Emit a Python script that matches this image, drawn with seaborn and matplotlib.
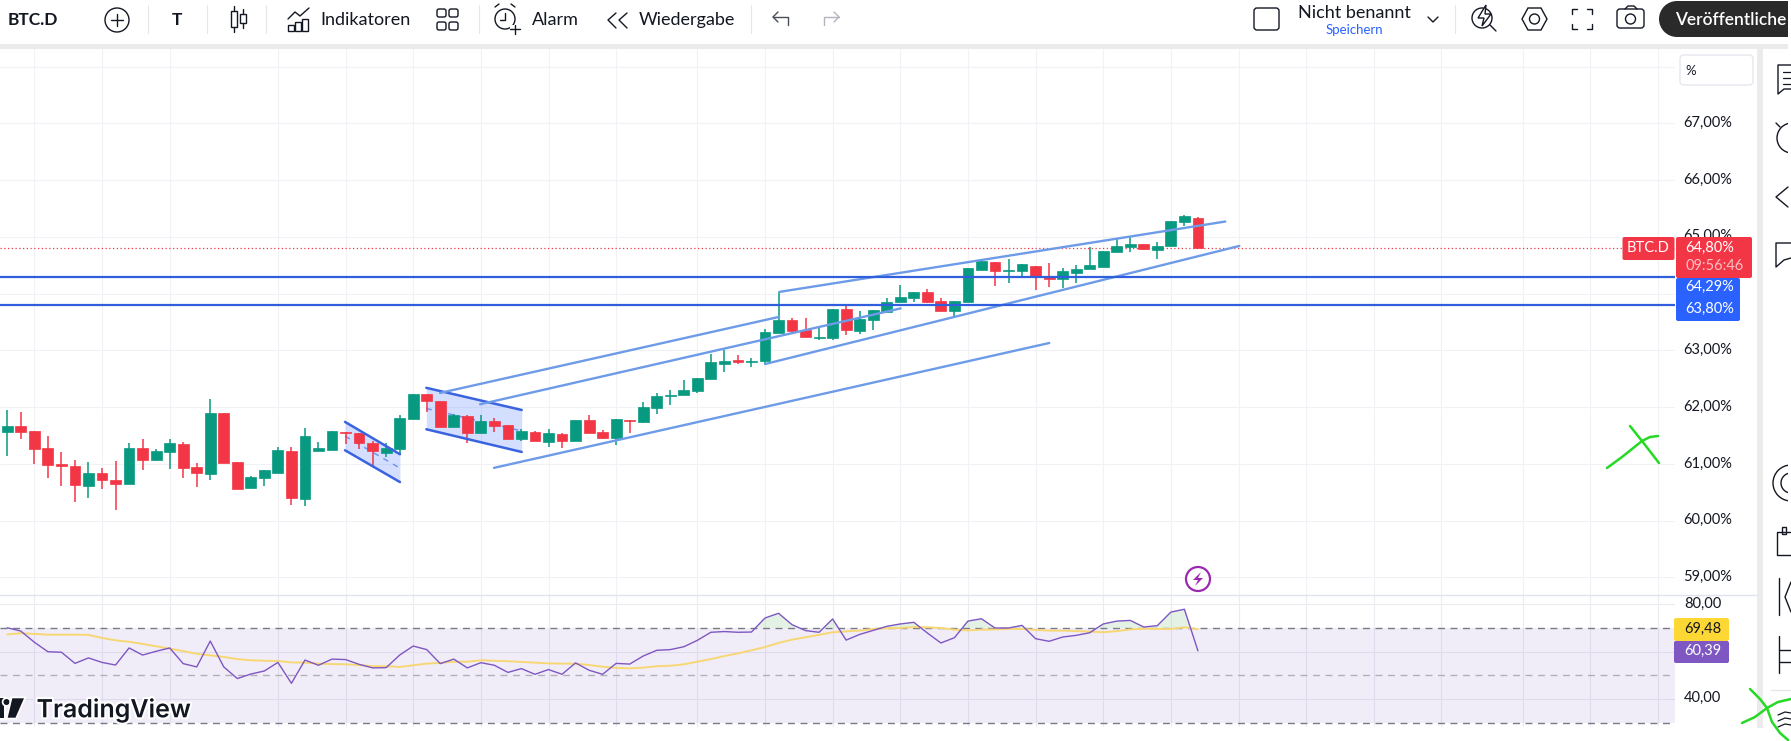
import matplotlib
matplotlib.use("Agg")
import matplotlib.patheffects as pe
import matplotlib.pyplot as plt
import numpy as np
import pandas as pd
import seaborn as sns
from matplotlib.lines import Line2D
from matplotlib.patches import Circle, FancyBboxPatch, Polygon, Rectangle
from matplotlib.transforms import ScaledTranslation

# candles, in percent
opens = [61.56, 61.67, 61.58, 61.28, 60.99, 60.96, 60.61, 60.84, 60.72, 60.64, 61.28, 61.07, 61.21, 61.35, 60.94,
         60.82, 61.90, 61.03, 60.57, 60.75, 60.84, 61.23, 60.38, 61.23, 61.24, 61.56, 61.54, 61.37, 61.19, 61.26,
         61.79, 62.23, 62.11, 61.65, 61.84, 61.54, 61.75, 61.68, 61.44, 61.56, 61.39, 61.53, 61.40, 61.77, 61.56,
         61.46, 61.77, 61.74, 61.98, 62.20, 62.21, 62.28, 62.49, 62.76, 62.83, 62.79, 62.81, 63.31, 63.53, 63.36,
         63.22, 63.22, 63.73, 63.34, 63.53, 63.68, 63.85, 63.92, 64.03, 63.87, 63.69, 63.85, 64.42, 64.56, 64.40,
         64.40, 64.49, 64.31, 64.26, 64.36, 64.43, 64.47, 64.73, 64.82, 64.87, 64.77, 64.84, 65.26, 65.33]
highs = [61.95, 61.91, 61.58, 61.49, 61.21, 61.07, 61.03, 60.93, 61.05, 61.37, 61.44, 61.26, 61.44, 61.39, 61.01,
         62.14, 61.90, 61.03, 60.79, 60.89, 61.30, 61.30, 61.63, 61.39, 61.58, 61.56, 61.54, 61.40, 61.37, 61.86,
         62.23, 62.23, 62.11, 61.88, 61.86, 61.86, 61.81, 61.68, 61.61, 61.58, 61.61, 61.54, 61.77, 61.86, 61.60,
         61.79, 61.77, 62.09, 62.25, 62.30, 62.48, 62.51, 62.94, 63.01, 62.92, 62.87, 63.38, 64.03, 63.57, 63.57,
         63.41, 63.73, 63.78, 63.69, 63.71, 63.92, 64.15, 64.03, 64.08, 63.92, 63.87, 64.45, 64.61, 64.56, 64.61,
         64.52, 64.49, 64.54, 64.45, 64.50, 64.82, 64.75, 64.98, 65.01, 64.87, 64.91, 65.28, 65.39, 65.35]
lows = [61.14, 61.44, 60.99, 60.75, 60.61, 60.33, 60.40, 60.56, 60.19, 60.64, 60.89, 61.05, 60.91, 60.75, 60.59,
        60.72, 61.01, 60.56, 60.57, 60.61, 60.84, 60.28, 60.26, 61.23, 61.24, 61.35, 61.26, 60.94, 61.12, 61.17,
        61.79, 61.91, 61.65, 61.65, 61.37, 61.54, 61.56, 61.44, 61.40, 61.40, 61.30, 61.28, 61.40, 61.54, 61.44,
        61.33, 61.54, 61.72, 61.88, 62.04, 62.21, 62.25, 62.49, 62.62, 62.76, 62.71, 62.74, 63.31, 63.32, 63.24,
        63.18, 63.18, 63.27, 63.29, 63.36, 63.68, 63.85, 63.85, 63.83, 63.69, 63.59, 63.85, 64.42, 64.13, 64.19,
        64.31, 64.06, 64.12, 64.10, 64.19, 64.43, 64.47, 64.73, 64.73, 64.77, 64.61, 64.84, 65.19, 64.80]
closes = [61.67, 61.56, 61.26, 60.98, 60.96, 60.63, 60.84, 60.72, 60.64, 61.28, 61.07, 61.23, 61.37, 60.93, 60.84,
          61.90, 61.01, 60.56, 60.77, 60.89, 61.24, 60.40, 61.49, 61.28, 61.58, 61.54, 61.37, 61.23, 61.28, 61.81,
          62.23, 62.11, 61.65, 61.86, 61.54, 61.75, 61.67, 61.44, 61.58, 61.40, 61.54, 61.40, 61.77, 61.54, 61.46,
          61.79, 61.75, 62.00, 62.20, 62.21, 62.30, 62.51, 62.79, 62.81, 62.79, 62.81, 63.32, 63.53, 63.34, 63.24,
          63.24, 63.73, 63.36, 63.55, 63.71, 63.85, 63.94, 64.03, 63.85, 63.69, 63.87, 64.45, 64.57, 64.40, 64.42,
          64.52, 64.29, 64.26, 64.40, 64.43, 64.50, 64.75, 64.84, 64.87, 64.79, 64.84, 65.28, 65.37, 64.80]

rsi = [70.1, 68.7, 64.0, 60.0, 59.8, 55.1, 57.4, 55.5, 54.4, 61.6, 58.6, 60.2, 61.6, 55.0, 53.6, 64.5, 53.6, 48.7,
       50.6, 51.9, 55.5, 46.7, 56.5, 54.3, 56.9, 56.7, 54.7, 53.2, 53.3, 58.6, 62.4, 60.9, 55.0, 56.9, 53.2, 55.4,
       54.3, 51.3, 52.9, 50.5, 52.5, 50.5, 55.3, 52.2, 50.5, 55.1, 54.8, 58.2, 60.6, 60.9, 62.1, 64.8, 68.2, 68.5,
       68.2, 68.3, 74.2, 76.2, 71.4, 68.9, 68.2, 73.8, 64.9, 67.3, 69.0, 70.7, 71.7, 72.4, 67.9, 63.7, 65.9, 72.9,
       73.9, 70.0, 70.0, 71.1, 65.5, 64.4, 66.2, 66.9, 68.0, 71.7, 72.9, 73.2, 70.4, 71.0, 76.7, 77.9, 60.39]
rsi_ma = [67.3, 67.8, 67.5, 67.2, 67.2, 67.2, 67.1, 65.8, 64.8, 64.2, 63.3, 62.3, 61.3, 60.3, 59.1, 58.5, 57.8, 56.9,
          56.4, 56.2, 56.1, 55.5, 55.4, 55.0, 54.8, 54.7, 54.4, 53.9, 53.9, 53.6, 54.3, 55.0, 55.3, 55.8, 55.8, 56.4,
          56.2, 56.0, 55.7, 55.4, 55.1, 55.0, 55.0, 54.4, 53.7, 53.2, 53.0, 53.3, 53.9, 54.1, 54.7, 55.8, 56.9, 58.2,
          59.3, 60.6, 62.0, 63.7, 65.1, 66.1, 67.1, 68.2, 68.6, 68.9, 69.6, 69.9, 70.0, 70.4, 70.3, 70.0, 69.3, 69.0,
          69.3, 69.4, 69.6, 69.6, 69.2, 68.9, 68.9, 68.7, 68.5, 68.2, 68.7, 69.4, 69.7, 69.6, 69.6, 70.3, 69.48]

x_grid = [2, 7, 12, 20, 25, 30, 35, 40, 45, 51, 56, 61, 66, 71, 76, 81, 86, 91, 96, 101, 106, 112, 117, 122]
price_ticks = [59, 60, 61, 62, 63, 64, 65, 66, 67, 68]
price_labels = ["59,00%", "60,00%", "61,00%", "62,00%", "63,00%", "64,00%", "65,00%", "66,00%", "67,00%", ""]
rsi_grid = [80, 60, 40]
rsi_bands = [70, 50, 30]
last_price = 64.80
level_lines = [64.29, 63.80]

# drawings: (bar, price, bar, price)
channel_lines = [(31.98, 62.25, 57.04, 63.59), (34.94, 62.05, 66.03, 63.74), (56.02, 62.76, 91.06, 64.84),
                 (57.06, 64.03, 90.02, 65.27), (35.97, 60.93, 77.01, 63.13)]
flags = [(24.96, 29.02, 61.74, 61.17, 61.24, 60.68), (30.97, 38.02, 62.34, 61.95, 61.61, 61.21)]

GREEN = "#089981"
RED = "#f23645"
BLUE = "#2f5fdc"
LIGHT_BLUE = "#6d9be8"
GRID = "#f0f2f6"
FONT = "Lato"
W, H = 1791, 741

sns.set_theme(style="white")
plt.rcParams["font.family"] = [FONT, "DejaVu Sans"]

df = pd.DataFrame({"bar": np.arange(len(opens)), "open": opens, "high": highs, "low": lows, "close": closes,
                   "rsi": rsi, "ma": rsi_ma})
up = df["close"] >= df["open"]
colors = np.where(up, GREEN, RED)

fig = plt.figure(figsize=(W / 100, H / 100), dpi=100, facecolor="white")
x_left, x_right = -0.54, 123.26


def pane(y_top, y_bottom):
    return fig.add_axes([0, 1 - y_bottom / H, 1675 / W, (y_bottom - y_top) / H])


ax = pane(49, 595)
ax_rsi = pane(595, 727)

# price pane
ax.set_xlim(x_left, x_right)
ax.set_ylim(58.69, 68.31)
ax.yaxis.tick_right()
ax.set_yticks(price_ticks, price_labels)
ax.set_xticks(x_grid, [])
ax.tick_params(axis="y", length=0, pad=6, labelsize=10.5, labelcolor="#131722")
ax.tick_params(axis="x", length=0)
for tick_label in ax.get_yticklabels():
    tick_label.set_transform(tick_label.get_transform() + ScaledTranslation(0, 2 / 100, fig.dpi_scale_trans))
ax.grid(True, color=GRID, lw=0.8)
ax.set_axisbelow(True)
sns.despine(ax=ax, left=True, bottom=True, right=True, top=True)

ax.vlines(df["bar"], df["low"], df["high"], color=colors, lw=1.1, zorder=2)
ax.bar(df["bar"], (df["close"] - df["open"]).abs(), bottom=df[["open", "close"]].min(axis=1), width=0.8,
       color=colors, edgecolor=colors, lw=0.5, zorder=3)

for x0, x1, top0, top1, bot0, bot1 in flags:
    ax.fill_between([x0, x1], [bot0, bot1], [top0, top1], color="#2962ff", alpha=0.2, lw=0, zorder=1.5)
    ax.plot([x0, x1], [top0, top1], color="#3a63e0", lw=1.8, zorder=5)
    ax.plot([x0, x1], [bot0, bot1], color="#3a63e0", lw=1.8, zorder=5)
    ax.plot([x0, x1], [(top0 + bot0) / 2, (top1 + bot1) / 2], color="#6d8ff0", lw=1, ls=(0, (4, 4)), zorder=1.8)

for x0, y0, x1, y1 in channel_lines:
    ax.plot([x0, x1], [y0, y1], color=LIGHT_BLUE, lw=1.7, zorder=5)
for level in level_lines:
    ax.axhline(level, color=BLUE, lw=1.6, zorder=5)
ax.axhline(last_price, color=RED, lw=0.9, ls=(0, (1, 2)), zorder=1)

# RSI pane
ax_rsi.set_xlim(x_left, x_right)
ax_rsi.set_ylim(28.3, 83.9)
ax_rsi.set_xticks(x_grid, [])
ax_rsi.set_yticks(rsi_grid, [])
ax_rsi.tick_params(length=0)
ax_rsi.grid(True, color="#ebebf1", lw=0.8)
ax_rsi.set_axisbelow(True)
sns.despine(ax=ax_rsi, left=True, bottom=True, right=True, top=True)
ax_rsi.axhspan(30, 70, facecolor="#7e57c2", alpha=0.1, lw=0, zorder=1)
for band, shade in zip(rsi_bands, ["#787b86", "#b0b0ba", "#787b86"]):
    ax_rsi.axhline(band, color=shade, lw=1, ls=(0, (5, 4)), zorder=2)
ax_rsi.fill_between(df["bar"], 70, df["rsi"], where=df["rsi"] > 70, interpolate=True, color="#a5d6a7", alpha=0.3,
                    lw=0, zorder=2)
sns.lineplot(data=df, x="bar", y="ma", ax=ax_rsi, color="#f7d774", lw=1.4, zorder=3)
sns.lineplot(data=df, x="bar", y="rsi", ax=ax_rsi, color="#7e57c2", lw=1.0, zorder=4)
ax_rsi.set_xlabel("")
ax_rsi.set_ylabel("")

# everything around the chart, laid out in screen pixels
ui = fig.add_axes([0, 0, 1, 1], zorder=10)
ui.set_xlim(0, W)
ui.set_ylim(H, 0)
ui.axis("off")
ui.patch.set_alpha(0)
INK = "#131722"


def label(x, y, s, size=10.5, color=INK, ha="left", weight="normal", family=None, **kw):
    return ui.text(x, y, s, fontsize=size, color=color, ha=ha, va="center", fontweight=weight,
                   family=family or [FONT, "DejaVu Sans"], **kw)


def stroke(xs, ys, color=INK, lw=1.0, **kw):
    ui.add_line(Line2D(xs, ys, color=color, lw=lw, solid_capstyle="round", **kw))


def box(x0, y0, x1, y1, color, radius=2):
    ui.add_patch(FancyBboxPatch((x0 + radius, y0 + radius), x1 - x0 - 2 * radius, y1 - y0 - 2 * radius,
                                boxstyle=f"round,pad={radius},rounding_size={radius}", fc=color, ec="none"))


# grey frames
ui.add_patch(Rectangle((0, 44), W, 5, fc="#ebebeb", ec="none"))
ui.add_patch(Rectangle((1757, 44), 6, 684, fc="#ebebeb", ec="none"))
stroke([0, 1757], [595, 595], "#e0e3eb", 1)

# toolbar left
label(8, 20, "BTC.D", 12.5, weight="bold")
for sx in [148, 207, 266, 479, 751, 1455]:
    stroke([sx, sx], [5, 33], "#e6e6e6", 0.8)
ui.add_patch(Circle((117, 20), 12, fc="none", ec=INK, lw=1))
stroke([111, 123], [20, 20])
stroke([117, 117], [14, 26])
label(177, 20, "T", 12.5, ha="center", weight="bold")
for cx, y0, y1, b0, b1 in [(234, 6, 32, 11, 27), (243, 9, 28, 14, 23)]:
    stroke([cx, cx], [y0, b0])
    stroke([cx, cx], [b1, y1])
    ui.add_patch(Rectangle((cx - 3, b0), 6, b1 - b0, fc="none", ec=INK, lw=1))
stroke([288, 295, 300, 309], [19, 12, 16, 8])
for bx, top in [(288, 25), (295, 22), (302, 19)]:
    ui.add_patch(Rectangle((bx, top), 6, 31 - top, fc="none", ec=INK, lw=1))
label(320, 20, "Indikatoren", 13)
for gx, gy in [(437, 9), (449, 9), (437, 22), (449, 22)]:
    ui.add_patch(FancyBboxPatch((gx + 1, gy + 1), 7, 6, boxstyle="round,pad=1,rounding_size=2", fc="none", ec=INK,
                                lw=1))
ui.add_patch(Circle((505, 19), 10, fc="none", ec=INK, lw=1))
stroke([505, 505, 500], [13, 20, 20])
stroke([495, 499], [7, 4])
stroke([515, 511], [7, 4])
ui.add_patch(Rectangle((510, 25), 10, 10, fc="white", ec="none"))
stroke([515, 515], [25, 34])
stroke([510, 520], [29, 29])
label(532, 20, "Alarm", 13)
stroke([616, 608, 616], [13, 20, 28])
stroke([627, 619, 627], [13, 20, 28])
label(639, 20, "Wiedergabe", 13)
stroke([778, 773, 778], [12, 17, 22], "#4a4e59")
stroke([773, 788, 788], [17, 17, 25], "#4a4e59")
stroke([834, 839, 834], [12, 17, 22], "#b2b5be")
stroke([839, 824, 824], [17, 17, 25], "#b2b5be")

# toolbar right
ui.add_patch(FancyBboxPatch((1256, 10), 21, 18, boxstyle="round,pad=2,rounding_size=3", fc="none", ec=INK, lw=1))
label(1354, 13, "Nicht benannt", 13, ha="center")
label(1354, 30, "Speichern", 9.5, ha="center", color="#2962ff")
stroke([1428, 1433, 1438], [17, 22, 17])
ui.add_patch(Circle((1482, 18), 10, fc="none", ec=INK, lw=1))
ui.add_patch(Polygon([(1486, 5), (1478, 18), (1484, 18), (1482, 26), (1491, 14), (1485, 14)], fc="white", ec=INK,
                     lw=1))
stroke([1490, 1496], [25, 31])
ui.add_patch(Polygon([(1522, 19), (1528, 8), (1541, 8), (1547, 19), (1541, 30), (1528, 30)], fc="none", ec=INK, lw=1))
ui.add_patch(Circle((1534.5, 19), 5, fc="none", ec=INK, lw=1))
for sx, sy, dx, dy in [(1572, 9, 1, 1), (1592, 9, -1, 1), (1572, 29, 1, -1), (1592, 29, -1, -1)]:
    stroke([sx + 5 * dx, sx, sx], [sy, sy, sy + 5 * dy])
ui.add_patch(FancyBboxPatch((1619, 11), 23, 15, boxstyle="round,pad=2,rounding_size=3", fc="none", ec=INK, lw=1))
ui.add_patch(Circle((1630.5, 19), 5, fc="none", ec=INK, lw=1))
stroke([1625, 1628, 1634, 1637], [9, 6, 6, 9])
ui.add_patch(Circle((1677, 19), 18, fc="#2a2a2a", ec="none"))
ui.add_patch(Rectangle((1677, 1), 111, 36, fc="#2a2a2a", ec="none"))
label(1675, 20, "Veröffentliche", 12.5, color="white", weight="semibold")

# price scale widgets
ui.add_patch(FancyBboxPatch((1683, 58), 67, 24, boxstyle="round,pad=3,rounding_size=4", fc="white", ec="#e6e8ee", lw=1))
label(1685, 71, "%", 9.5)
box(1622.5, 237, 1674.5, 260, RED)
label(1648.5, 248, "BTC.D", 10.5, color="white", ha="center")
box(1676, 278, 1740, 321, "#2962ff")
box(1676, 237, 1752, 278, RED)
label(1685, 248, "64,80%", 10.5, color="white")
label(1685, 266, "09:56:46", 10.5, color="#f9c0c4")
label(1685, 287, "64,29%", 10.5, color="white")
label(1685, 309, "63,80%", 10.5, color="white")

# RSI scale
label(1684, 604, "80,00", 10.5)
label(1684, 698, "40,00", 10.5)
box(1674, 618, 1729, 641, "#fdd835")
box(1674, 641, 1729, 663, "#7e57c2")
label(1684, 629, "69,48", 10.5)
label(1684, 651, "60,39", 10.5, color="white")

# alert marker on the time axis
ui.add_patch(Circle((1198, 579), 12, fc="white", ec="#9c27b0", lw=1.6))
ui.add_patch(Polygon([(1201, 572), (1193, 580), (1198, 580), (1195, 586), (1203, 578), (1198, 578)], fc="#9c27b0",
                     ec="none"))

# TradingView watermark
LOGO = "#131722"
halo = [pe.withStroke(linewidth=3, foreground="white")]
logo_parts = [Rectangle((0, 698), 3.5, 20, fc=LOGO, ec="none"),
              Circle((6.5, 702), 3, fc=LOGO, ec="none"),
              Polygon([(12.3, 698.3), (24, 698.3), (15.5, 717.7), (7.7, 717.7)], fc=LOGO, ec="none")]
for part in logo_parts:
    ui.add_patch(part)
    part.set_path_effects([pe.withStroke(linewidth=2.5, foreground="white")])
ui.text(36.5, 717.3, "TradingView", fontsize=18, color=LOGO, ha="left", va="baseline", fontweight="semibold",
        family=["Inter", "DejaVu Sans"], path_effects=halo)

# right sidebar, cut off by the screenshot edge
stroke([1791, 1778, 1778, 1784, 1791], [65, 65, 94, 89, 89], lw=1)
for ly in [72, 78, 84]:
    stroke([1783, 1791], [ly, ly], lw=0.9)
ui.add_patch(Circle((1792, 138), 15, fc="none", ec=INK, lw=1))
stroke([1780, 1776], [127, 123])
stroke([1788, 1776, 1788], [187, 197, 207], lw=1)
stroke([1791, 1776, 1776, 1784, 1791], [243, 243, 267, 260, 258], lw=1)
ui.add_patch(Circle((1791, 483), 18, fc="none", ec=INK, lw=1))
ui.add_patch(Circle((1791, 483), 10, fc="none", ec=INK, lw=1))
stroke([1791, 1777, 1777, 1791], [532, 532, 555, 555], lw=1)
ui.add_patch(Rectangle((1782, 527), 4, 7, fc="white", ec=INK, lw=1))
stroke([1779, 1779], [578, 615], lw=1)
stroke([1791, 1785, 1791], [582, 597, 612], lw=1)
stroke([1779, 1779], [636, 673], lw=1)
stroke([1779, 1791], [650, 650], lw=1)
stroke([1779, 1791], [662, 662], lw=1)
stroke([1771, 1791], [690, 690], "#e6e6e6", 1)
for ry in [712, 718, 724]:
    stroke([1778, 1785, 1791], [ry + 3, ry, ry + 1], lw=0.9)
ui.add_patch(Rectangle((1788, 0), 3, 741, fc="white", ec="none"))

# hand drawn crosses
SCRIBBLE = "#25d925"
stroke([1607, 1622, 1632, 1642, 1650, 1658], [468, 457, 449, 441, 437, 436], SCRIBBLE, 1.8)
stroke([1630, 1642, 1659], [426, 441, 463], SCRIBBLE, 1.8)
stroke([1742, 1755, 1767, 1778, 1791], [723, 717, 708, 702, 699], SCRIBBLE, 1.8)
stroke([1750, 1760, 1767, 1772, 1780, 1788], [689, 699, 708, 722, 733, 740], SCRIBBLE, 1.8)

fig.savefig("out.png", dpi=100, facecolor="white")
